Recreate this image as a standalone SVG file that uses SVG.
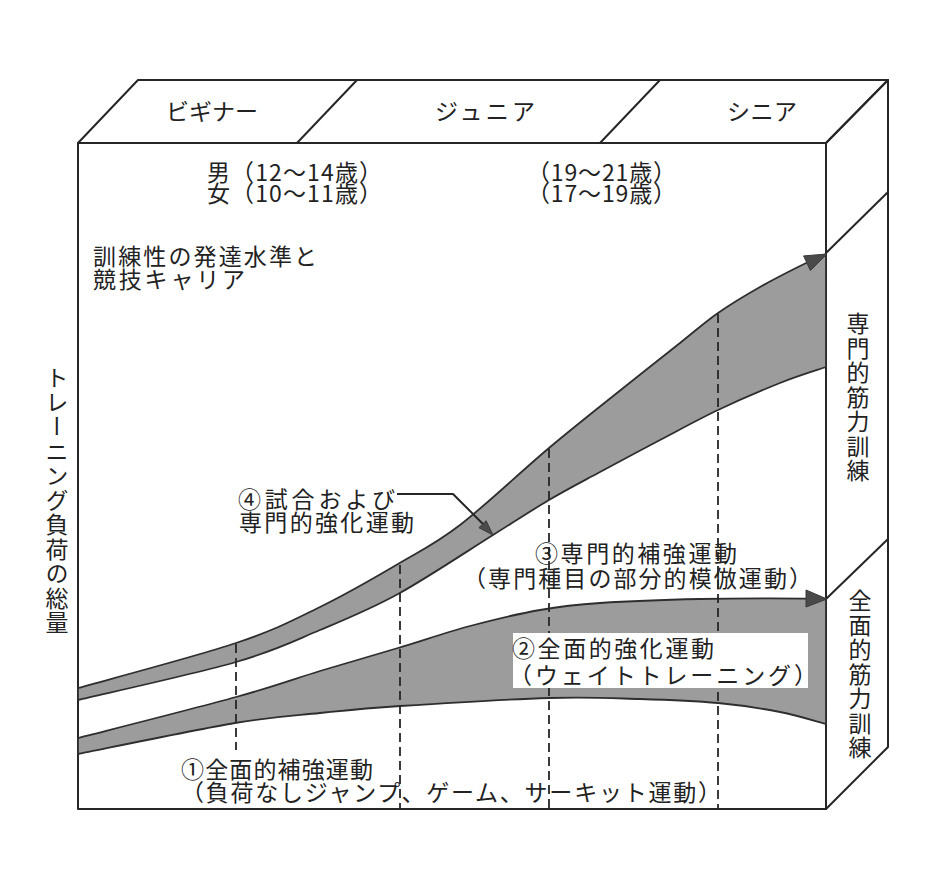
<svg xmlns="http://www.w3.org/2000/svg" width="940" height="891" viewBox="0 0 940 891">
<style>
.ln{fill:none;stroke:#262626;stroke-width:2;stroke-linejoin:round}
.band{fill:#9c9c9c;stroke:#2e2e2e;stroke-width:1.8;stroke-linejoin:round}
.dash{fill:none;stroke:#262626;stroke-width:1.8;stroke-dasharray:9 5}
.t{font-family:"Noto Sans CJK JP","Noto Sans CJK SC",sans-serif;fill:#222;font-size:23px}
.tv{font-family:"Noto Sans CJK JP","Noto Sans CJK SC",sans-serif;fill:#222;font-size:23px;writing-mode:vertical-rl;letter-spacing:1.5px}
.ah{fill:#4a4a4a;stroke:#3a3a3a;stroke-width:1}
</style>
<rect width="940" height="891" fill="#fff"/>
<g id="box">
<polygon class="ln" points="78,143 138,80 888,80 826,143" fill="#fff"/>
<polygon class="ln" points="826,143 888,80 888,747 826,809" fill="#fff"/>
<rect class="ln" x="78" y="143" width="748" height="666" fill="#fff"/>
<line class="ln" x1="297" y1="143" x2="357" y2="80"/>
<line class="ln" x1="600" y1="143" x2="660" y2="80"/>
<line class="ln" x1="826" y1="253" x2="888" y2="192"/>
<line class="ln" x1="826" y1="599" x2="888" y2="539"/>
</g>
<g id="stage-beginner"><text class="t" x="212" y="120" font-size="22" text-anchor="middle" textLength="92">ビギナー</text></g>
<g id="stage-junior"><text class="t" x="485" y="120" font-size="22" text-anchor="middle" textLength="100">ジュニア</text></g>
<g id="stage-senior"><text class="t" x="762" y="120" font-size="22" text-anchor="middle" textLength="70">シニア</text></g>
<g id="age-beginner">
<text class="t" x="207" y="181" font-size="20" textLength="175">男（12〜14歳）</text>
<text class="t" x="207" y="202" font-size="20" textLength="175">女（10〜11歳）</text>
</g>
<g id="age-senior">
<text class="t" x="527" y="181" font-size="20" textLength="149">（19〜21歳）</text>
<text class="t" x="527" y="202" font-size="20" textLength="149">（17〜19歳）</text>
</g>
<g id="career-label">
<text class="t" x="93" y="265" font-size="22" textLength="224">訓練性の発達水準と</text>
<text class="t" x="93" y="288" font-size="22" textLength="152">競技キャリア</text>
</g>
<g id="y-axis-label"><text class="tv" x="57" y="366">トレーニング負荷の総量</text></g>
<g id="side-special"><text class="tv" x="858" y="312">専門的筋力訓練</text></g>
<g id="side-general"><text class="tv" x="860" y="589">全面的筋力訓練</text></g>
<g id="band-4">
<path class="band" d="M78,688 C104.3,680.5 195.7,656.5 236,643 S293,620.2 320,607 S374.7,577.7 398,564 S434.8,544.3 460,525 S521.2,471.3 549,448 S605.2,402.5 627,385 S664.8,355 680,343 S704.7,322.3 718,313 S746.3,294.8 760,287 S789,271.5 800,266 S821.7,256 826,254 L826,367 C818.3,369.7 798,375.8 780,383 S738,400.5 718,410 S679.7,429.7 660,440 S618.5,462 600,472 S566.8,489.5 549,500 S518.2,519.3 493,535 S426.8,578.2 398,594 S347,618.7 320,630 S276.3,650.3 236,662 S104.3,693.7 78,700 Z"/>
</g>
<g id="band-2">
<path class="band" d="M78,738 C104.3,731.2 195.7,708.2 236,697 S293,679.2 320,671 S373,655.5 398,648 S446.3,632.3 470,626 S518.3,613.8 540,610 S573.3,604.8 600,603 S662.3,599.8 700,599 S805,598.2 826,599 L826,724 C818.3,722 798,715.5 780,712 S741.3,705.2 718,703 S668.2,699.8 640,699 S589,696.8 549,698 S438.2,703.5 400,706 S347.5,710.2 320,713 S275.3,716.2 235,723 S104.2,748.8 78,754 Z"/>
</g>
<g id="label-3">
<text class="t" x="535" y="562" textLength="202">③専門的補強運動</text>
<text class="t" x="463" y="587" textLength="349">（専門種目の部分的模倣運動）</text>
</g>
<g id="label-1">
<text class="t" x="181" y="778" font-size="22" textLength="192">①全面的補強運動</text>
<text class="t" x="181" y="801" font-size="22" textLength="540">（負荷なしジャンプ、ゲーム、サーキット運動）</text>
</g>
<g id="label-4">
<text class="t" x="238" y="508" font-size="22" textLength="157">④試合および</text>
<text class="t" x="239" y="531" font-size="22" textLength="175">専門的強化運動</text>
</g>
<g id="dividers">
<line class="dash" x1="236" y1="644" x2="236" y2="750"/>
<line class="dash" x1="400" y1="565" x2="400" y2="809"/>
<line class="dash" x1="549" y1="449" x2="549" y2="809"/>
<line class="dash" x1="718" y1="314" x2="718" y2="809"/>
</g>
<g id="label-2">
<rect x="513" y="633" width="295" height="55" fill="#fff"/>
<text class="t" x="512" y="657" textLength="202">②全面的強化運動</text>
<text class="t" x="509" y="684" textLength="308">（ウェイトトレーニング）</text>
</g>
<g id="connectors">
<polygon class="ah" points="827,254 810.4,270.5 803.6,255.9"/>
<polygon class="ah" points="827,599 806,590 806,607"/>
<polyline class="ln" points="397,494 453,494 483,524" stroke-width="1.8"/>
<polygon class="ah" points="493,535 478.9,527.7 486.1,520.7"/>
</g>
</svg>
